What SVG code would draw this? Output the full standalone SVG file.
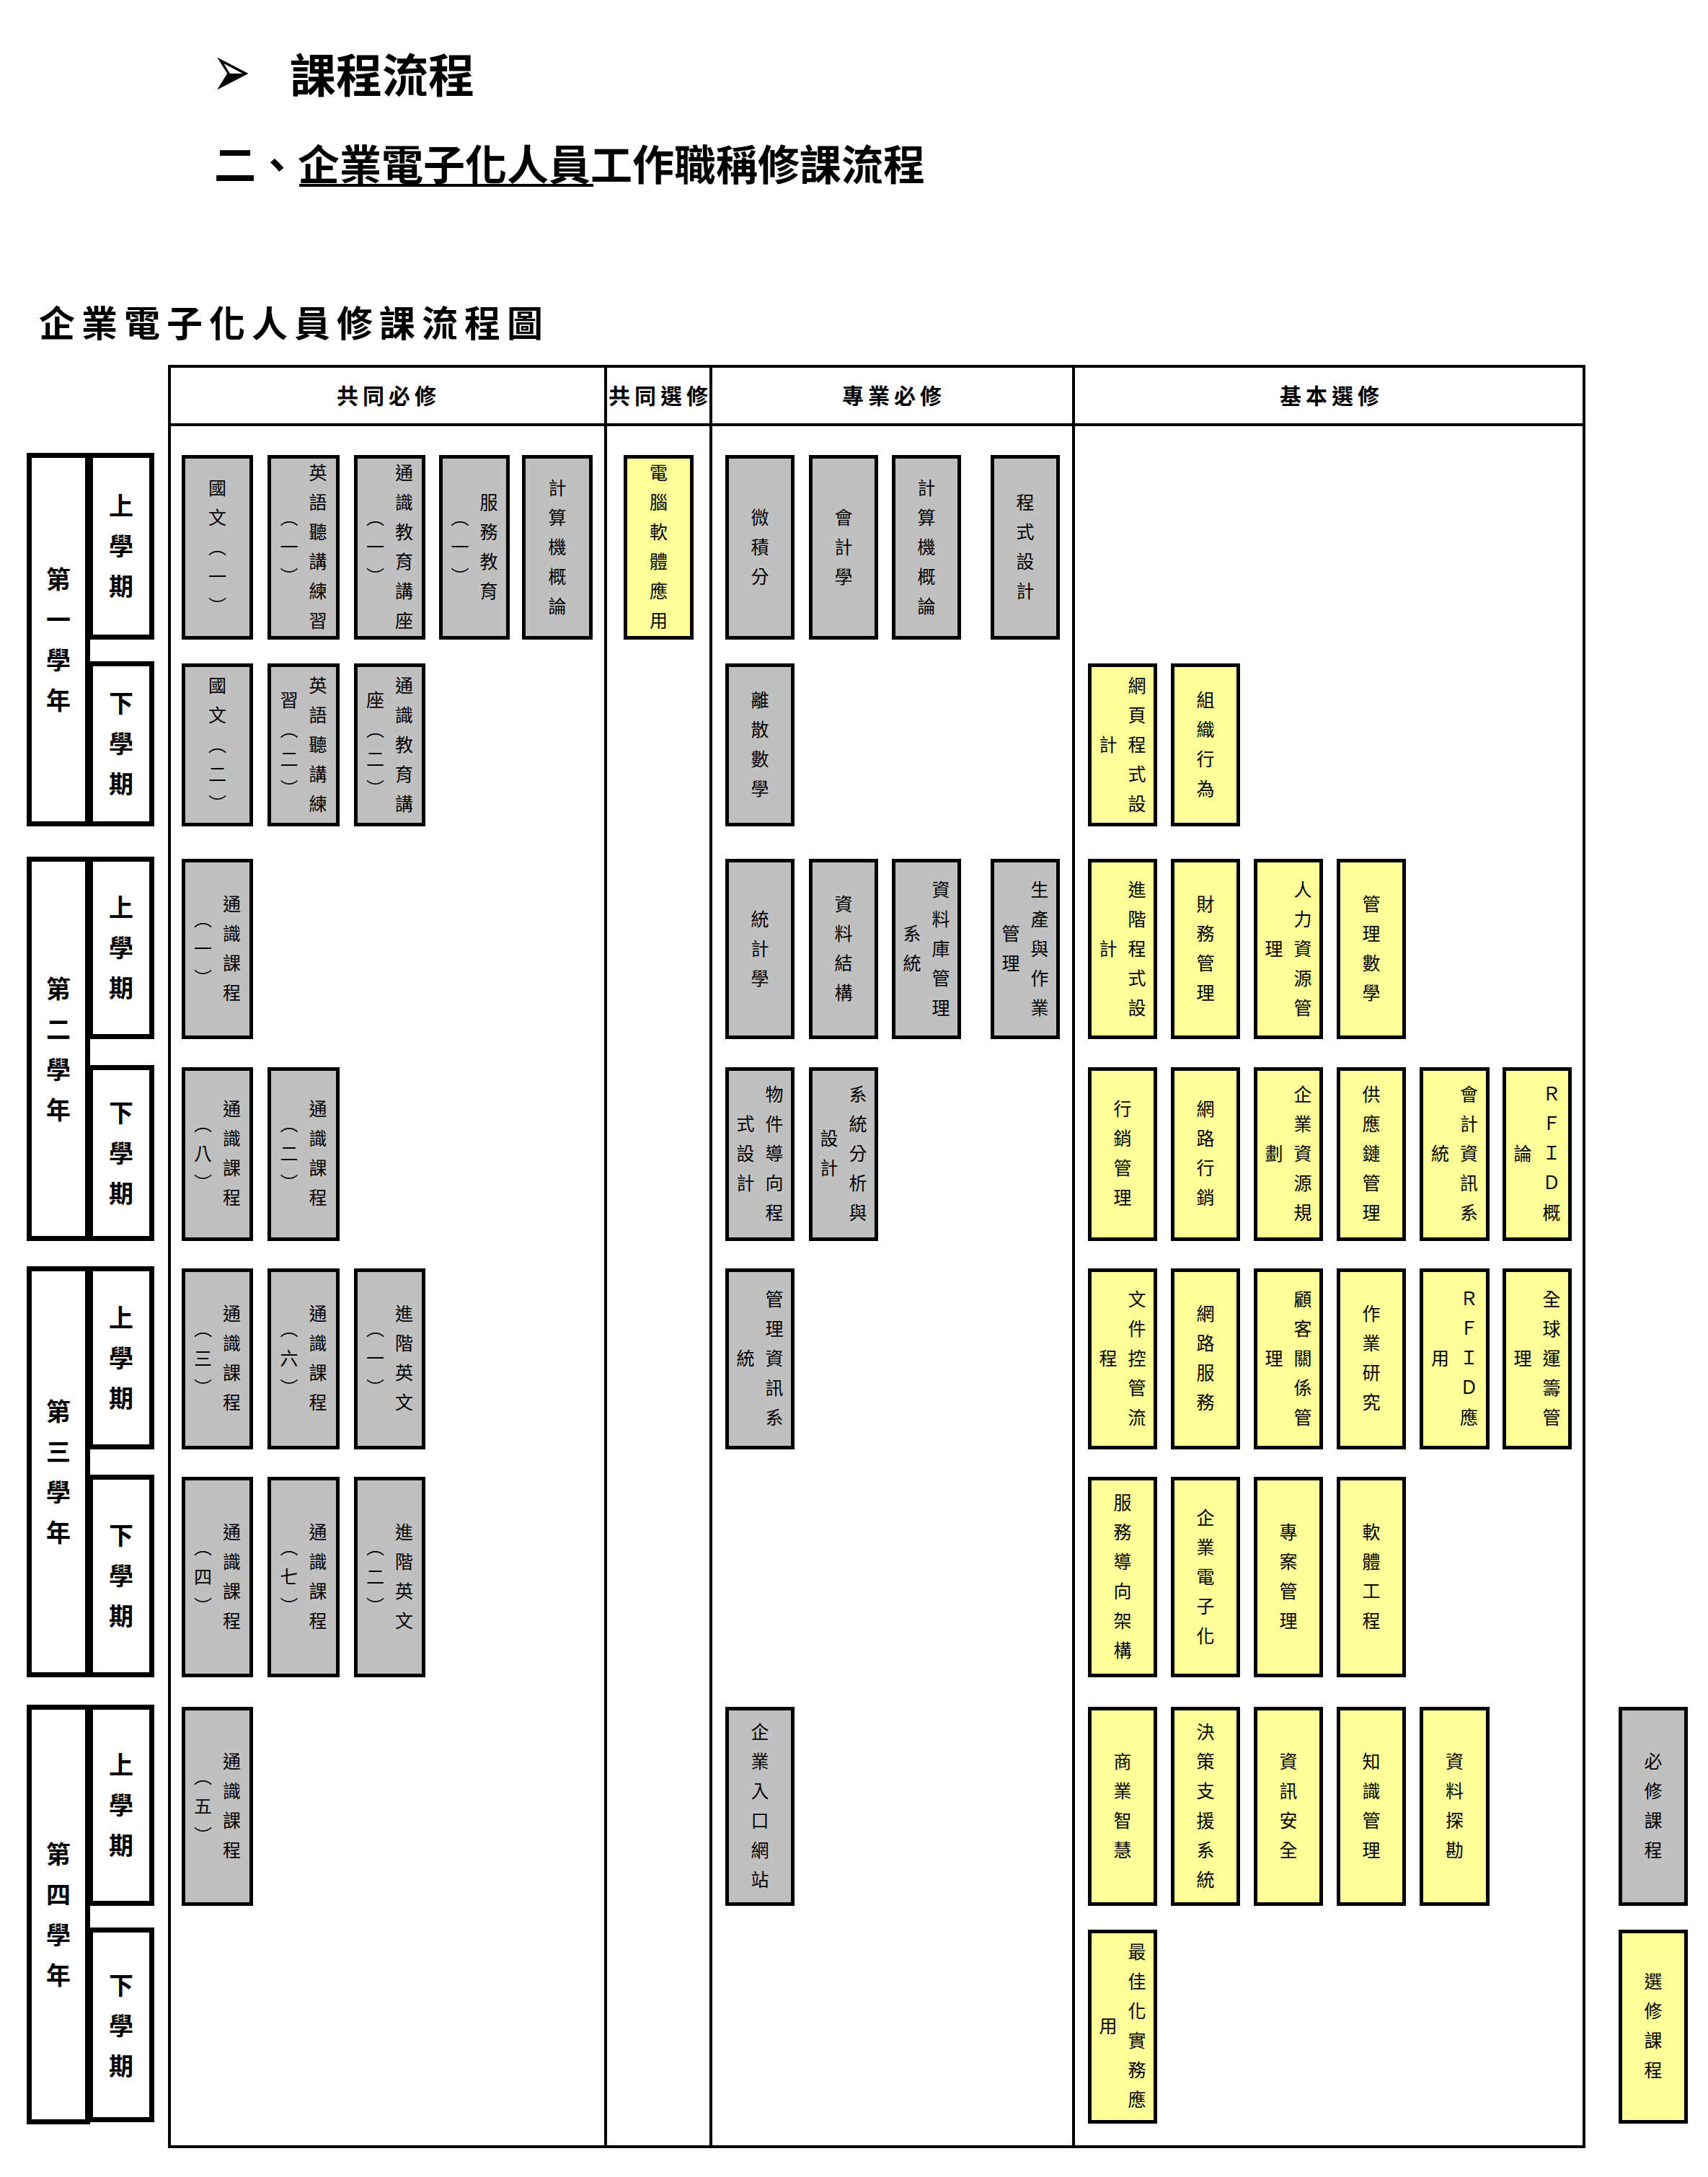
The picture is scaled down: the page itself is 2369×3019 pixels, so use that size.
<svg xmlns="http://www.w3.org/2000/svg" width="2369" height="3019" viewBox="0 0 2369 3019">
<style>
.ti{font-family:"Noto Sans CJK TC","Noto Sans CJK SC",sans-serif;font-weight:bold;fill:#000}
.h{font-family:"Noto Sans CJK TC","Noto Sans CJK SC",sans-serif;font-weight:bold;font-size:30px;letter-spacing:6px;text-anchor:middle;fill:#000}
.t{font-family:"Noto Sans CJK TC","Noto Sans CJK SC",sans-serif;font-size:25px;letter-spacing:16px;writing-mode:vertical-rl;text-anchor:middle;fill:#000}
.lb{font-family:"Noto Sans CJK TC","Noto Sans CJK SC",sans-serif;font-weight:bold;font-size:34px;letter-spacing:22px;writing-mode:vertical-rl;text-anchor:middle;fill:#000}
.g{fill:#c0c0c0;stroke:#000;stroke-width:5}
.y{fill:#ffff99;stroke:#000;stroke-width:5}
.yb{fill:#fff;stroke:#000;stroke-width:7}
.ln{stroke:#000;stroke-width:4;fill:none}
</style>
<rect x="0" y="0" width="2369" height="3019" fill="#fff"/>

<g id="titles">
<text transform="translate(294,134) scale(1,1.6)" x="0" y="0" font-family="DejaVu Sans" font-size="64">➢</text>
<text class="ti" x="402" y="128" font-size="64">課程流程</text>
<text class="ti" x="297" y="250" font-size="58">二、企業電子化人員工作職稱修課流程</text>
<line x1="415" y1="257" x2="823" y2="257" stroke="#000" stroke-width="4"/>
<text class="ti" x="54" y="467" font-size="50" letter-spacing="9">企業電子化人員修課流程圖</text>
</g>

<g id="grid">
<rect class="ln" x="235" y="508" width="1962" height="2469"/>
<line class="ln" x1="233" y1="589" x2="2199" y2="589"/>
<line class="ln" x1="840" y1="506" x2="840" y2="2979"/>
<line class="ln" x1="986" y1="506" x2="986" y2="2979"/>
<line class="ln" x1="1489" y1="506" x2="1489" y2="2979"/>
<text class="h" x="539" y="560">共同必修</text>
<text class="h" x="916" y="560">共同選修</text>
<text class="h" x="1240" y="560">專業必修</text>
<text class="h" x="1847" y="560">基本選修</text>
</g>

<g id="connectors"></g>

<g id="year1">
<rect class="yb" x="40.5" y="631.5" width="81" height="511"/>
<text class="lb" x="81" y="898">第一學年</text>
<rect class="yb" x="125.5" y="631.5" width="85" height="252"/>
<text class="lb" x="168" y="768">上學期</text>
<rect class="yb" x="125.5" y="920.5" width="85" height="222"/>
<text class="lb" x="168" y="1042">下學期</text>
</g>
<g id="year2">
<rect class="yb" x="40.5" y="1191.5" width="81" height="526"/>
<text class="lb" x="81" y="1466">第二學年</text>
<rect class="yb" x="125.5" y="1191.5" width="85" height="246"/>
<text class="lb" x="168" y="1325">上學期</text>
<rect class="yb" x="125.5" y="1480.5" width="85" height="237"/>
<text class="lb" x="168" y="1610">下學期</text>
</g>
<g id="year3">
<rect class="yb" x="40.5" y="1759.5" width="81" height="563"/>
<text class="lb" x="81" y="2052">第三學年</text>
<rect class="yb" x="125.5" y="1759.5" width="85" height="247"/>
<text class="lb" x="168" y="1894">上學期</text>
<rect class="yb" x="125.5" y="2048.5" width="85" height="274"/>
<text class="lb" x="168" y="2196">下學期</text>
</g>
<g id="year4">
<rect class="yb" x="40.5" y="2367.5" width="81" height="575"/>
<text class="lb" x="81" y="2666">第四學年</text>
<rect class="yb" x="125.5" y="2367.5" width="85" height="272"/>
<text class="lb" x="168" y="2514">上學期</text>
<rect class="yb" x="125.5" y="2676.5" width="85" height="263"/>
<text class="lb" x="168" y="2820">下學期</text>
</g>

<!-- Row 1 -->
<g id="r1-guowen1"><rect class="g" x="254.5" y="633.5" width="94" height="251"/><text class="t" x="301.5" y="766">國文︵一︶</text></g>
<g id="r1-english1"><rect class="g" x="373.5" y="633.5" width="95" height="251"/><text class="t" x="441" y="766">英語聽講練習</text><text class="t" x="401" y="766">︵一︶</text></g>
<g id="r1-general1"><rect class="g" x="493.5" y="633.5" width="94" height="251"/><text class="t" x="560.5" y="766">通識教育講座</text><text class="t" x="520.5" y="766">︵一︶</text></g>
<g id="r1-service1"><rect class="g" x="611.5" y="633.5" width="93" height="251"/><text class="t" x="678" y="766">服務教育</text><text class="t" x="638" y="766">︵一︶</text></g>
<g id="r1-intro-cs-a"><rect class="g" x="726.5" y="633.5" width="93" height="251"/><text class="t" x="773" y="766">計算機概論</text></g>
<g id="r1-software"><rect class="y" x="867.5" y="633.5" width="92" height="251"/><text class="t" x="913.5" y="766">電腦軟體應用</text></g>
<g id="r1-calculus"><rect class="g" x="1008.5" y="633.5" width="91" height="251"/><text class="t" x="1054" y="766">微積分</text></g>
<g id="r1-accounting"><rect class="g" x="1124.5" y="633.5" width="91" height="251"/><text class="t" x="1170" y="766">會計學</text></g>
<g id="r1-intro-cs-b"><rect class="g" x="1239.5" y="633.5" width="91" height="251"/><text class="t" x="1285" y="766">計算機概論</text></g>
<g id="r1-programming"><rect class="g" x="1376.5" y="633.5" width="91" height="251"/><text class="t" x="1422" y="766">程式設計</text></g>

<!-- Row 2 -->
<g id="r2-guowen2"><rect class="g" x="254.5" y="922.5" width="94" height="221"/><text class="t" x="301.5" y="1040">國文︵二︶</text></g>
<g id="r2-english2"><rect class="g" x="373.5" y="922.5" width="95" height="221"/><text class="t" x="441" y="1040">英語聽講練</text><text class="t" x="401" y="1040">習︵二︶</text></g>
<g id="r2-general2"><rect class="g" x="493.5" y="922.5" width="94" height="221"/><text class="t" x="560.5" y="1040">通識教育講</text><text class="t" x="520.5" y="1040">座︵二︶</text></g>
<g id="r2-discrete"><rect class="g" x="1008.5" y="922.5" width="91" height="221"/><text class="t" x="1054" y="1040">離散數學</text></g>
<g id="r2-webprog"><rect class="y" x="1511.5" y="922.5" width="91" height="221"/><text class="t" x="1577" y="1040">網頁程式設</text><text class="t" x="1537" y="1040">計</text></g>
<g id="r2-orgbehavior"><rect class="y" x="1626.5" y="922.5" width="91" height="221"/><text class="t" x="1672" y="1040">組織行為</text></g>

<!-- Row 3 -->
<g id="r3-ge1"><rect class="g" x="254.5" y="1193.5" width="94" height="245"/><text class="t" x="321.5" y="1323">通識課程</text><text class="t" x="281.5" y="1323">︵一︶</text></g>
<g id="r3-statistics"><rect class="g" x="1008.5" y="1193.5" width="91" height="245"/><text class="t" x="1054" y="1323">統計學</text></g>
<g id="r3-datastruct"><rect class="g" x="1124.5" y="1193.5" width="91" height="245"/><text class="t" x="1170" y="1323">資料結構</text></g>
<g id="r3-dbms"><rect class="g" x="1239.5" y="1193.5" width="91" height="245"/><text class="t" x="1305" y="1323">資料庫管理</text><text class="t" x="1265" y="1323">系統</text></g>
<g id="r3-production"><rect class="g" x="1376.5" y="1193.5" width="91" height="245"/><text class="t" x="1442" y="1323">生產與作業</text><text class="t" x="1402" y="1323">管理</text></g>
<g id="r3-advprog"><rect class="y" x="1511.5" y="1193.5" width="91" height="245"/><text class="t" x="1577" y="1323">進階程式設</text><text class="t" x="1537" y="1323">計</text></g>
<g id="r3-finance"><rect class="y" x="1626.5" y="1193.5" width="91" height="245"/><text class="t" x="1672" y="1323">財務管理</text></g>
<g id="r3-hrm"><rect class="y" x="1741.5" y="1193.5" width="91" height="245"/><text class="t" x="1807" y="1323">人力資源管</text><text class="t" x="1767" y="1323">理</text></g>
<g id="r3-mgmtmath"><rect class="y" x="1856.5" y="1193.5" width="91" height="245"/><text class="t" x="1902" y="1323">管理數學</text></g>

<!-- Row 4 -->
<g id="r4-ge8"><rect class="g" x="254.5" y="1482.5" width="94" height="236"/><text class="t" x="321.5" y="1607">通識課程</text><text class="t" x="281.5" y="1607">︵八︶</text></g>
<g id="r4-ge2"><rect class="g" x="373.5" y="1482.5" width="95" height="236"/><text class="t" x="441" y="1607">通識課程</text><text class="t" x="401" y="1607">︵二︶</text></g>
<g id="r4-oop"><rect class="g" x="1008.5" y="1482.5" width="91" height="236"/><text class="t" x="1074" y="1607">物件導向程</text><text class="t" x="1034" y="1607">式設計</text></g>
<g id="r4-sad"><rect class="g" x="1124.5" y="1482.5" width="91" height="236"/><text class="t" x="1190" y="1607">系統分析與</text><text class="t" x="1150" y="1607">設計</text></g>
<g id="r4-marketing"><rect class="y" x="1511.5" y="1482.5" width="91" height="236"/><text class="t" x="1557" y="1607">行銷管理</text></g>
<g id="r4-netmarketing"><rect class="y" x="1626.5" y="1482.5" width="91" height="236"/><text class="t" x="1672" y="1607">網路行銷</text></g>
<g id="r4-erp"><rect class="y" x="1741.5" y="1482.5" width="91" height="236"/><text class="t" x="1807" y="1607">企業資源規</text><text class="t" x="1767" y="1607">劃</text></g>
<g id="r4-scm"><rect class="y" x="1856.5" y="1482.5" width="91" height="236"/><text class="t" x="1902" y="1607">供應鏈管理</text></g>
<g id="r4-ais"><rect class="y" x="1971.5" y="1482.5" width="92" height="236"/><text class="t" x="2037.5" y="1607">會計資訊系</text><text class="t" x="1997.5" y="1607">統</text></g>
<g id="r4-rfid-intro"><rect class="y" x="2086.5" y="1482.5" width="91" height="236"/><text class="t" x="2152" y="1607">ＲＦＩＤ概</text><text class="t" x="2112" y="1607">論</text></g>

<!-- Row 5 -->
<g id="r5-ge3"><rect class="g" x="254.5" y="1761.5" width="94" height="246"/><text class="t" x="321.5" y="1891">通識課程</text><text class="t" x="281.5" y="1891">︵三︶</text></g>
<g id="r5-ge6"><rect class="g" x="373.5" y="1761.5" width="95" height="246"/><text class="t" x="441" y="1891">通識課程</text><text class="t" x="401" y="1891">︵六︶</text></g>
<g id="r5-adveng1"><rect class="g" x="493.5" y="1761.5" width="94" height="246"/><text class="t" x="560.5" y="1891">進階英文</text><text class="t" x="520.5" y="1891">︵一︶</text></g>
<g id="r5-mis"><rect class="g" x="1008.5" y="1761.5" width="91" height="246"/><text class="t" x="1074" y="1891">管理資訊系</text><text class="t" x="1034" y="1891">統</text></g>
<g id="r5-docflow"><rect class="y" x="1511.5" y="1761.5" width="91" height="246"/><text class="t" x="1577" y="1891">文件控管流</text><text class="t" x="1537" y="1891">程</text></g>
<g id="r5-netservice"><rect class="y" x="1626.5" y="1761.5" width="91" height="246"/><text class="t" x="1672" y="1891">網路服務</text></g>
<g id="r5-crm"><rect class="y" x="1741.5" y="1761.5" width="91" height="246"/><text class="t" x="1807" y="1891">顧客關係管</text><text class="t" x="1767" y="1891">理</text></g>
<g id="r5-or"><rect class="y" x="1856.5" y="1761.5" width="91" height="246"/><text class="t" x="1902" y="1891">作業研究</text></g>
<g id="r5-rfid-app"><rect class="y" x="1971.5" y="1761.5" width="92" height="246"/><text class="t" x="2037.5" y="1891">ＲＦＩＤ應</text><text class="t" x="1997.5" y="1891">用</text></g>
<g id="r5-glm"><rect class="y" x="2086.5" y="1761.5" width="91" height="246"/><text class="t" x="2152" y="1891">全球運籌管</text><text class="t" x="2112" y="1891">理</text></g>

<!-- Row 6 -->
<g id="r6-ge4"><rect class="g" x="254.5" y="2050.5" width="94" height="273"/><text class="t" x="321.5" y="2194">通識課程</text><text class="t" x="281.5" y="2194">︵四︶</text></g>
<g id="r6-ge7"><rect class="g" x="373.5" y="2050.5" width="95" height="273"/><text class="t" x="441" y="2194">通識課程</text><text class="t" x="401" y="2194">︵七︶</text></g>
<g id="r6-adveng2"><rect class="g" x="493.5" y="2050.5" width="94" height="273"/><text class="t" x="560.5" y="2194">進階英文</text><text class="t" x="520.5" y="2194">︵二︶</text></g>
<g id="r6-soa"><rect class="y" x="1511.5" y="2050.5" width="91" height="273"/><text class="t" x="1557" y="2194">服務導向架構</text></g>
<g id="r6-ebiz"><rect class="y" x="1626.5" y="2050.5" width="91" height="273"/><text class="t" x="1672" y="2194">企業電子化</text></g>
<g id="r6-pm"><rect class="y" x="1741.5" y="2050.5" width="91" height="273"/><text class="t" x="1787" y="2194">專案管理</text></g>
<g id="r6-se"><rect class="y" x="1856.5" y="2050.5" width="91" height="273"/><text class="t" x="1902" y="2194">軟體工程</text></g>

<!-- Row 7 -->
<g id="r7-ge5"><rect class="g" x="254.5" y="2369.5" width="94" height="271"/><text class="t" x="321.5" y="2512">通識課程</text><text class="t" x="281.5" y="2512">︵五︶</text></g>
<g id="r7-portal"><rect class="g" x="1008.5" y="2369.5" width="91" height="271"/><text class="t" x="1054" y="2512">企業入口網站</text></g>
<g id="r7-bi"><rect class="y" x="1511.5" y="2369.5" width="91" height="271"/><text class="t" x="1557" y="2512">商業智慧</text></g>
<g id="r7-dss"><rect class="y" x="1626.5" y="2369.5" width="91" height="271"/><text class="t" x="1672" y="2512">決策支援系統</text></g>
<g id="r7-security"><rect class="y" x="1741.5" y="2369.5" width="91" height="271"/><text class="t" x="1787" y="2512">資訊安全</text></g>
<g id="r7-km"><rect class="y" x="1856.5" y="2369.5" width="91" height="271"/><text class="t" x="1902" y="2512">知識管理</text></g>
<g id="r7-dm"><rect class="y" x="1971.5" y="2369.5" width="92" height="271"/><text class="t" x="2017.5" y="2512">資料探勘</text></g>
<g id="legend-required"><rect class="g" x="2247.5" y="2369.5" width="91" height="271"/><text class="t" x="2293" y="2512">必修課程</text></g>

<!-- Row 8 -->
<g id="r8-optimization"><rect class="y" x="1511.5" y="2678.5" width="91" height="264"/><text class="t" x="1577" y="2817">最佳化實務應</text><text class="t" x="1537" y="2817">用</text></g>
<g id="legend-elective"><rect class="y" x="2247.5" y="2678.5" width="91" height="264"/><text class="t" x="2293" y="2817">選修課程</text></g>
</svg>
